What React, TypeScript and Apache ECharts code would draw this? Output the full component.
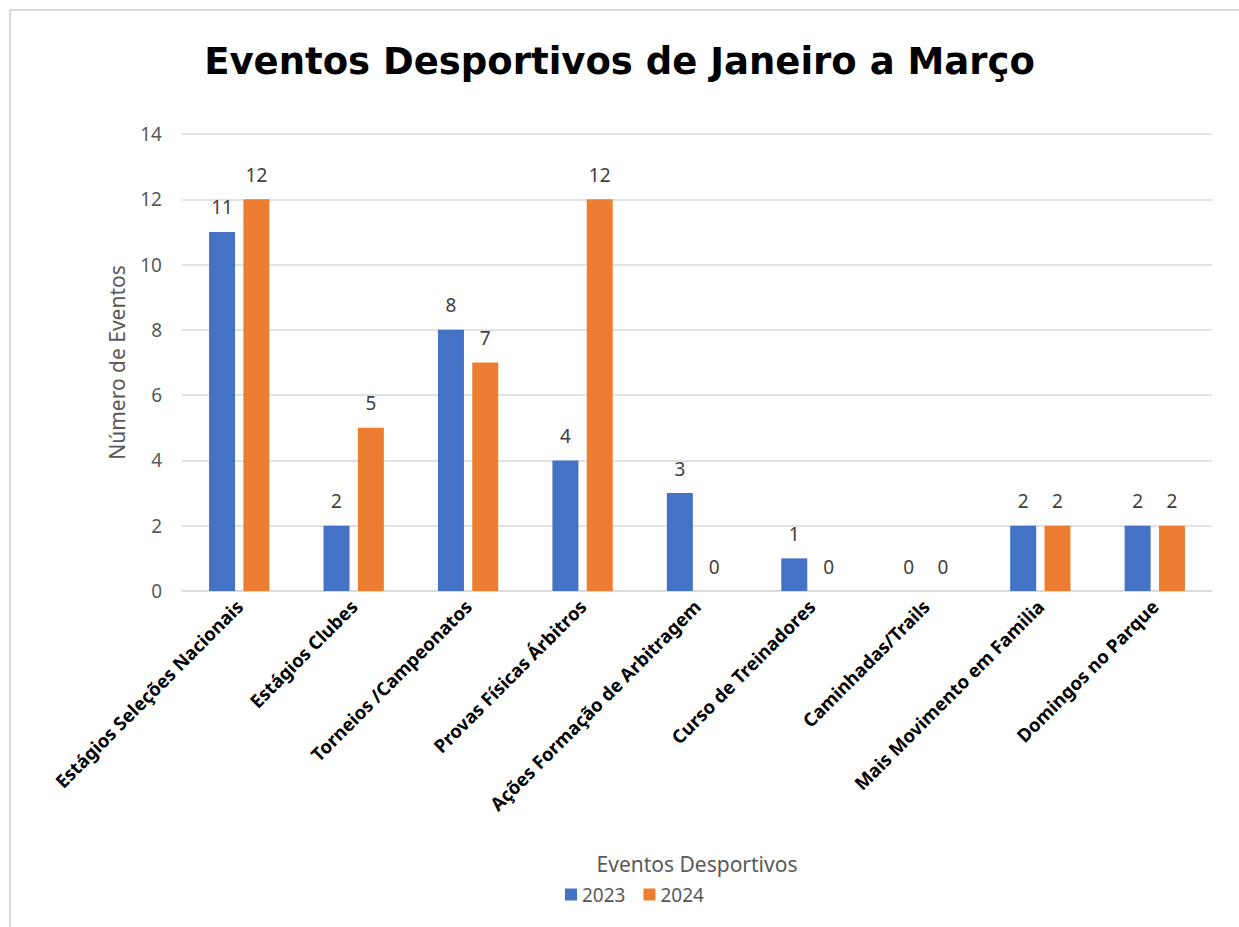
import React, { useEffect, useRef } from "react";
import * as echarts from "echarts";

const categories = [
  "Estágios Seleções Nacionais",
  "Estágios Clubes",
  "Torneios /Campeonatos",
  "Provas Físicas Árbitros",
  "Ações Formação de Arbitragem",
  "Curso de Treinadores",
  "Caminhadas/Trails",
  "Mais Movimento em Familia",
  "Domingos no Parque",
];
const values2023 = [11, 2, 8, 4, 3, 1, 0, 2, 2];
const values2024 = [12, 5, 7, 12, 0, 0, 0, 2, 2];
const seriesNames = ["2023", "2024"];

const FONT = "'Noto Sans', 'Open Sans', sans-serif";

export default function App() {
  const ref = useRef<HTMLDivElement>(null);
  useEffect(() => {
    document.body.style.margin = "0";
    const chart = echarts.init(ref.current!, null, { renderer: "svg" });
    const labelStyle = {
      show: true,
      position: "top" as const,
      distance: 15,
      fontSize: 19,
      color: "#404040",
      fontFamily: FONT,
    };
    chart.setOption({
      animation: false,
      backgroundColor: "#ffffff",
      title: {
        text: "Eventos Desportivos de Janeiro a Março",
        left: "center",
        top: 38,
        textStyle: {
          fontFamily: "'DejaVu Sans', sans-serif",
          fontWeight: "bold",
          fontSize: 37,
          color: "#000000",
        },
      },
      legend: {
        data: seriesNames,
        left: 560,
        top: 880,
        itemWidth: 12,
        itemHeight: 12,
        itemGap: 18,
        icon: "rect",
        textStyle: { fontSize: 19, color: "#595959", fontFamily: FONT },
      },
      grid: { left: 182, right: 27, top: 134, bottom: 336 },
      xAxis: {
        type: "category",
        data: categories,
        axisLine: { show: true, lineStyle: { color: "#d9d9d9", width: 1.5 } },
        axisTick: { show: false },
        axisLabel: {
          interval: 0,
          rotate: 45,
          margin: 12,
          fontSize: 18.5,
          fontWeight: "bold",
          color: "#000000",
          fontFamily: FONT,
        },
      },
      yAxis: {
        type: "value",
        min: 0,
        max: 14,
        interval: 2,
        name: "Número de Eventos",
        nameLocation: "middle",
        nameGap: 55,
        nameTextStyle: { fontSize: 21, color: "#595959", fontFamily: FONT },
        axisLine: { show: false },
        axisTick: { show: false },
        axisLabel: { fontSize: 19, color: "#595959", margin: 20, fontFamily: FONT },
        splitLine: { lineStyle: { color: "#d9d9d9", width: 1.5 } },
      },
      graphic: [
        {
          type: "line",
          shape: { x1: 10, y1: 10, x2: 1239, y2: 10 },
          style: { stroke: "#d9d9d9", lineWidth: 2 },
        },
        {
          type: "line",
          shape: { x1: 10, y1: 10, x2: 10, y2: 927 },
          style: { stroke: "#d9d9d9", lineWidth: 2 },
        },
        {
          type: "text",
          x: 697,
          y: 864,
          style: {
            text: "Eventos Desportivos",
            fontSize: 21,
            fill: "#595959",
            fontFamily: FONT,
            align: "center",
            verticalAlign: "middle",
          },
        },
      ],
      series: [
        {
          name: seriesNames[0],
          type: "bar",
          data: values2023,
          barWidth: 26,
          barGap: "32%",
          itemStyle: { color: "#4472C4" },
          label: labelStyle,
        },
        {
          name: seriesNames[1],
          type: "bar",
          data: values2024,
          barWidth: 26,
          barGap: "32%",
          itemStyle: { color: "#ED7D31" },
          label: labelStyle,
        },
      ],
    });
    return () => chart.dispose();
  }, []);
  return <div ref={ref} style={{ width: 1239, height: 927 }} />;
}
